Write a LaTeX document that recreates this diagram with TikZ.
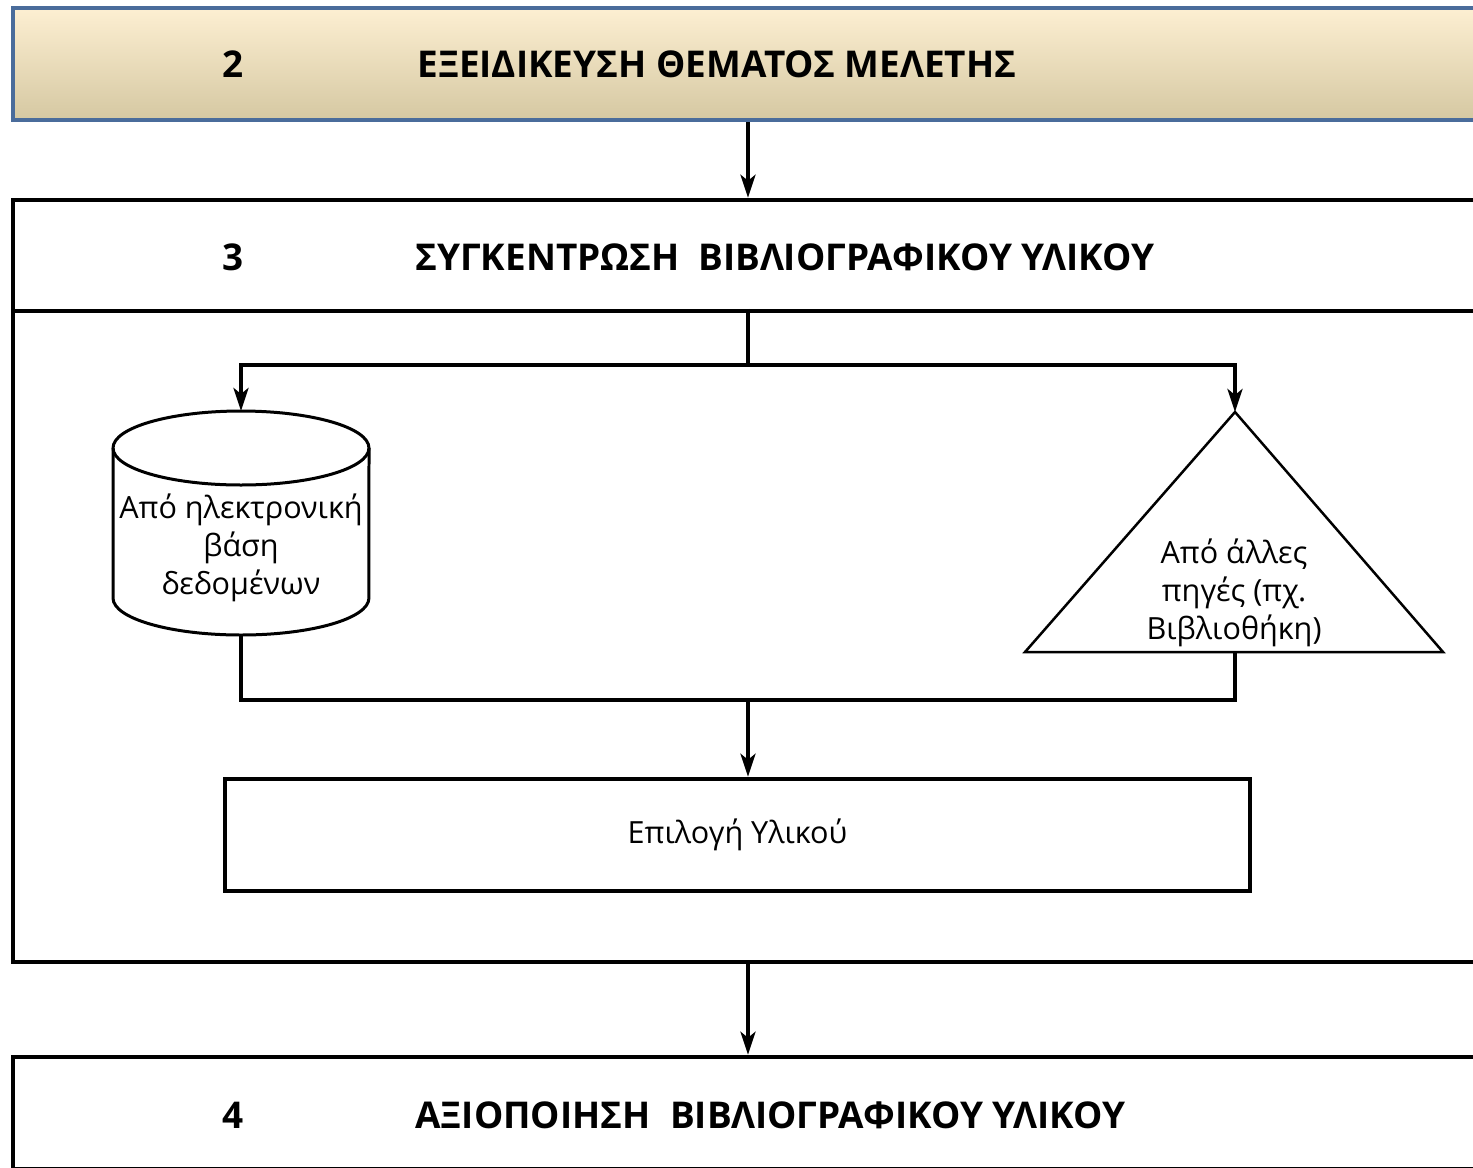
\documentclass[tikz,border=0pt]{standalone}
\usepackage{fontspec}
\setmainfont{Open Sans}
\usetikzlibrary{arrows.meta}

\definecolor{hdrblue}{HTML}{4A6C9B}
\definecolor{hdrtop}{HTML}{FDEFD2}
\definecolor{hdrmid}{HTML}{F1EBD7}
\definecolor{hdrbot}{HTML}{D5C8A2}

\tikzset{
  box/.style={draw, line width=0.09cm, inner sep=0pt},
  band/.style={box, minimum width=29.4cm},
  hdrbox/.style={band, draw=hdrblue, top color=hdrtop, middle color=hdrmid, bottom color=hdrbot},
  conn/.style={line width=0.08cm},
  arr/.style={conn, -{Stealth[length=0.46cm, width=0.3cm, inset=0.12cm]}},
  num/.style={font=\fontsize{21}{25}\selectfont\bfseries, inner sep=0pt},
  ttl/.style={num, anchor=west},
  txt/.style={font=\fontsize{17.4}{21.5}\selectfont, align=center, inner sep=0pt},
  dbline/.style={line width=0.06cm},
  triline/.style={line width=0.05cm},
}

\begin{document}
\begin{tikzpicture}[x=0.02cm, y=-0.02cm]
  \useasboundingbox (0,0) rectangle (1473,1167);
  \clip (0,0) rectangle (1473,1167);

  % step 2
  \node[hdrbox, minimum height=2.24cm] (s2) at (748,64) {};
  \node[num] (n2) at (233,64) {2};
  \node[ttl] (t2) at (417,64) {ΕΞΕΙΔΙΚΕΥΣΗ ΘΕΜΑΤΟΣ ΜΕΛΕΤΗΣ};

  % step 3
  \node[band, minimum height=2.22cm] (s3) at (748,255.5) {};
  \node[num] (n3) at (233,257) {3};
  \node[ttl] (t3) at (415,257) {ΣΥΓΚΕΝΤΡΩΣΗ\ \ ΒΙΒΛΙΟΓΡΑΦΙΚΟΥ ΥΛΙΚΟΥ};
  \draw[arr] (s2) -- (s3);

  \node[band, minimum height=13.02cm] (body) at (748,636.5) {};

  % database
  \coordinate (dbtop) at (241,411);
  \coordinate (dbbot) at (241,635);
  \draw[dbline, fill=white] (113,448) -- (113,598)
    arc[start angle=180, end angle=360, x radius=2.56cm, y radius=0.74cm] -- (369,448);
  \draw[dbline] (241,448) ellipse[x radius=2.56cm, y radius=0.74cm];
  \node[txt] (db) at (241,548) {Από ηλεκτρονική\\βάση\\δεδομένων};

  % other sources
  \coordinate (apex) at (1235,412);
  \coordinate (base) at (1235,652);
  \draw[triline] (apex) -- (1025,652) -- (1443,652) -- cycle;
  \node[txt] (src) at (1234,593) {Από άλλες\\πηγές (πχ.\\Βιβλιοθήκη)};

  \coordinate (fork) at (748,365);
  \draw[conn] (body.north) -- (fork);
  \draw[arr] (fork) -| (dbtop);
  \draw[arr] (fork) -| (apex);

  \node[box, minimum width=20.5cm, minimum height=2.24cm, txt] (sel) at (737.5,835) {Επιλογή Υλικού};
  \coordinate (merge) at (748,700);
  \draw[conn] (dbbot) |- (merge) -| (base);
  \draw[arr] (merge) -- (merge |- sel.north);

  % step 4
  \node[band, minimum height=2.24cm] (s4) at (748,1113) {};
  \node[num] (n4) at (233,1115) {4};
  \node[ttl] (t4) at (415,1115) {ΑΞΙΟΠΟΙΗΣΗ\ \ ΒΙΒΛΙΟΓΡΑΦΙΚΟΥ ΥΛΙΚΟΥ};
  \draw[arr] (body) -- (s4);
\end{tikzpicture}
\end{document}
